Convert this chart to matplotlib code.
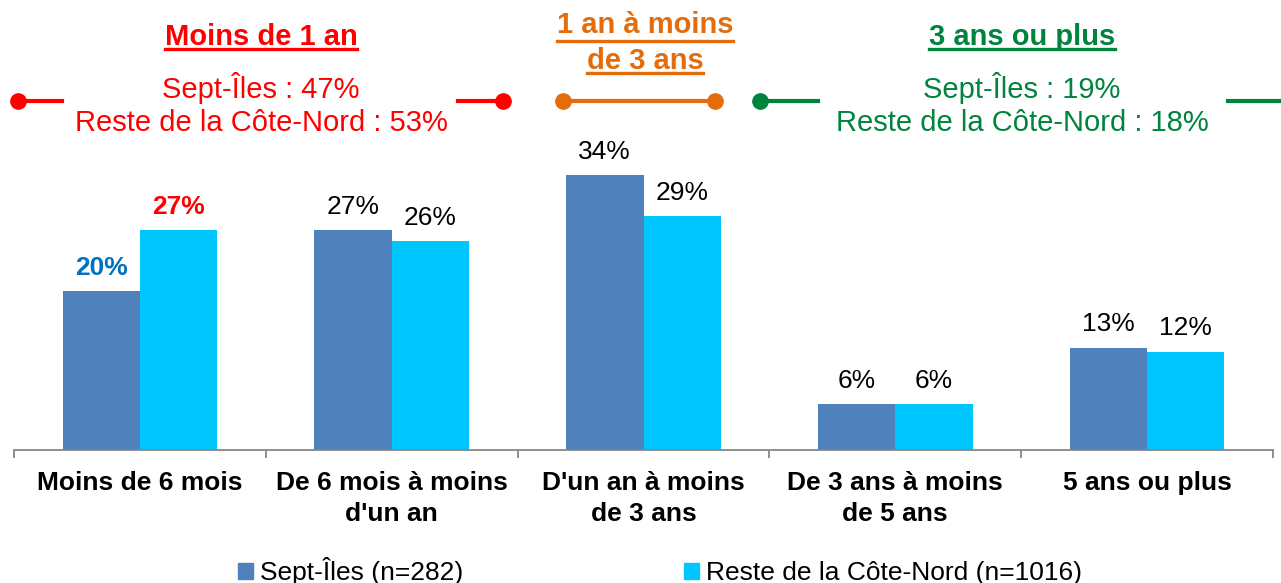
import numpy as np
import matplotlib
matplotlib.use("Agg")
import matplotlib.pyplot as plt
from matplotlib.patches import Patch

plt.rcParams['font.family'] = ['Liberation Sans', 'DejaVu Sans']

# Data (percent)
categories = ["Moins de 6 mois", "De 6 mois à moins\nd'un an", "D'un an à moins\nde 3 ans",
              "De 3 ans à moins\nde 5 ans", "5 ans ou plus"]
sept = [19.6, 27.1, 33.8, 5.7, 12.6]
reste = [27.0, 25.7, 28.8, 5.6, 12.1]
series_names = ["Sept-Îles (n=282)", "Reste de la Côte-Nord (n=1016)"]

group_titles = ["Moins de 1 an", "1 an à moins\nde 3 ans", "3 ans ou plus"]
group_lines = [["Sept-Îles : 47%", "Reste de la Côte-Nord : 53%"],
               [],
               ["Sept-Îles : 19%", "Reste de la Côte-Nord : 18%"]]

C_SEPT = '#4F81BD'
C_RESTE = '#00C6FF'
RED = '#FF0000'
ORANGE = '#E46C0A'
GREEN = '#00843D'
GREY = '#868686'
FS = 19

W, H = 1281, 583
fig = plt.figure(figsize=(W / 100, H / 100), dpi=100)

ax = fig.add_axes([14 / W, (H - 450) / H, 1259 / W, 309 / H])
x = np.arange(len(categories))
bw = 0.307
b1 = ax.bar(x - bw / 2, sept, bw, color=C_SEPT, linewidth=0)
b2 = ax.bar(x + bw / 2, reste, bw, color=C_RESTE, linewidth=0)

for i, (r1, r2) in enumerate(zip(b1, b2)):
    for rect, v, c in ((r1, sept[i], '#0070C0'), (r2, reste[i], RED)):
        special = (i == 0)
        ax.annotate(f"{v:.0f}%", (rect.get_x() + rect.get_width() / 2, rect.get_height()),
                    xytext=(0, 8), textcoords='offset points', ha='center', va='bottom',
                    fontsize=FS, color=c if special else 'black',
                    fontweight='bold' if special else 'normal')

ax.set_xlim(-0.5, len(categories) - 0.5)
ax.set_ylim(0, 38)
for s in ['top', 'right', 'left']:
    ax.spines[s].set_visible(False)
ax.spines['bottom'].set_color(GREY)
ax.spines['bottom'].set_linewidth(1.3)
ax.set_yticks([])
ax.set_xticks(np.arange(-0.5, len(categories)), labels=[])
ax.tick_params(axis='x', which='major', length=5.5, width=1.3, color=GREY, direction='out')
ax.set_xticks(x, labels=categories, minor=True)
ax.tick_params(axis='x', which='minor', length=0, pad=15, labelsize=FS)
for lab in ax.get_xticklabels(minor=True):
    lab.set_fontweight('bold')
    lab.set_linespacing(1.37)

# overlay in pixel coords for the group headers
ov = fig.add_axes([0, 0, 1, 1], zorder=-1)
ov.set_xlim(0, W)
ov.set_ylim(H, 0)
ov.axis('off')

titles = []
titles.append(ov.text(261, 37, group_titles[0], color=RED, fontsize=21, fontweight='bold',
                      ha='center', va='center'))
titles.append(ov.text(645, 43, group_titles[1], color=ORANGE, fontsize=21, fontweight='bold',
                      ha='center', va='center', linespacing=1.32))
titles.append(ov.text(1022, 37, group_titles[2], color=GREEN, fontsize=21, fontweight='bold',
                      ha='center', va='center'))

for cx, lines, col in ((261, group_lines[0], RED), (1022, group_lines[2], GREEN)):
    for k, t in enumerate(lines):
        ov.text(cx, 88 + 35 * k, t, color=col, fontsize=21, ha='center', va='center')

# bracket lines with dots
ly = 101
ov.plot([18, 62], [ly, ly], color=RED, lw=3)
ov.plot([458, 503], [ly, ly], color=RED, lw=3)
ov.plot([18, 503], [ly, ly], 'o', color=RED, ms=11)
ov.plot([563, 715], [ly, ly], '-o', color=ORANGE, lw=3, ms=11)
ov.plot([760, 818], [ly, ly], color=GREEN, lw=3)
ov.plot([760], [ly], 'o', color=GREEN, ms=11)
ov.plot([1228, W], [ly, ly], color=GREEN, lw=3)

# underline the group titles
fig.canvas.draw()
inv = ov.transData.inverted()
for t, col in zip(titles, (RED, ORANGE, GREEN)):
    lines = t.get_text().split('\n')
    bb = t.get_window_extent()
    (x0, ytop), (x1, ybot) = inv.transform([[bb.x0, bb.y1], [bb.x1, bb.y0]])
    n = len(lines)
    lh = (ybot - ytop) / n
    for k, line in enumerate(lines):
        tmp = ov.text(0, 0, line, fontsize=21, fontweight='bold')
        wb = tmp.get_window_extent(renderer=fig.canvas.get_renderer())
        tmp.remove()
        cx = (x0 + x1) / 2
        uy = ytop + lh * (k + 1) - 2
        ov.plot([cx - wb.width / 2, cx + wb.width / 2], [uy, uy], color=col, lw=2.4)

handles = [Patch(color=C_SEPT), Patch(color=C_RESTE)]
fig.legend(handles, series_names, loc='center', bbox_to_anchor=(660 / W, 1 - 571 / H),
           ncol=2, frameon=False, fontsize=FS, handlelength=0.55, handleheight=0.55,
           handletextpad=0.25, columnspacing=8.4, borderpad=0)

fig.savefig("out.png", dpi=100)
